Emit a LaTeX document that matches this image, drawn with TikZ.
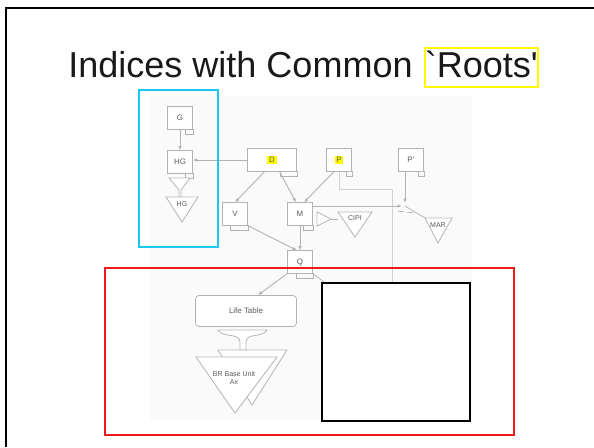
\documentclass[tikz,border=0pt]{standalone}
\usepackage{fontspec}
\setmainfont{Liberation Sans}
\newfontfamily\titlefont{Liberation Sans}
\usetikzlibrary{arrows.meta, positioning, calc}
\definecolor{boxcyan}{RGB}{25,200,245}
\definecolor{boxred}{RGB}{240,25,25}
\definecolor{hlyellow}{RGB}{255,250,0}
\newcommand{\tab}[2]
{
	\draw[gray!60] (#2.south east) rectangle ++(-#1,5)
}
\newcommand{\hl}[1]{{\setlength{\fboxsep}{1pt}\colorbox{hlyellow}{#1}}}

\begin{document}
\begin{tikzpicture}[x=0.02cm, y=-0.02cm,
	every node/.append style={inner sep=0pt},
	blk/.style={draw=gray!60, fill=white,
		minimum width=0.5cm,
		minimum height=0.45cm,
		font=\fontsize{4.5}{5}\selectfont, text=gray!70!black},
	lnk/.style={draw=gray!60, line width=0.5pt, -{Latex[length=2.5pt, width=2pt]}},
	tri/.style={draw=gray!55, fill=white, line width=0.5pt},
	lbl/.style={font=\fontsize{4}{5}\selectfont, text=gray!70!black},
	title/.style={font=\titlefont\fontsize{20.5}{24}\selectfont, text=black!90}]

	\useasboundingbox (0,0) rectangle (594,447);
	\draw[line width=1.2pt] (6,447) -- (6,8) -- (594,8);

	% title
	\node[title, anchor=base west] (ttl) at (68,77) {Indices with Common};
	\node[title, anchor=base west, draw=hlyellow, line width=1.5pt,
	inner xsep=0pt, inner ysep=1.5pt] (roots) at ([xshift=6pt]ttl.base east) {`Roots'\vphantom{g}};

	% pasted diagram
	\fill[gray!4] (150,96) rectangle (472,420);

	\node[blk] (G) at (180,118) {G};
	\node[blk] (HG) at (180,162) {HG};
	\node[blk, minimum width=0.98cm] (D) at (272,160) {\hl{D}};
	\node[blk] (P) at (339,160) {\hl{P}};
	\node[blk] (P2) at (411,160) {P'};
	\node[blk] (V) at (235,214) {V};
	\node[blk] (M) at (300,214) {M};
	\node[blk] (Q) at (300,262) {Q};
	\node[blk, rounded corners=2pt, minimum width=2.02cm, minimum height=0.62cm] (LT) at (246,311) {Life Table};
	\coordinate (jn) at (405,206);
	\coordinate (pl) at (392,283);
	\coordinate (qr) at (335,290);
	\tab{8}{G};
	\tab{8}{HG};
	\tab{17}{D};
	\tab{6}{P};
	\tab{6}{P2};
	\tab{18}{V};
	\tab{10}{M};
	\tab{17}{Q};

	\draw[gray!35] (P.south) -- ++(0,18) -| (pl);
	\draw[lnk] (G) -- (HG);
	\draw[lnk] (D.west) -- (D.west -| HG.east);
	\draw[lnk] ([xshift=-0.15cm]D.south) -- (V.north);
	\draw[lnk] ([xshift=0.15cm]D.south) -- ([xshift=-0.08cm]M.north);
	\draw[lnk] ([xshift=-0.1cm]P.south) -- ([xshift=0.08cm]M.north);
	\draw[lnk] (M.east |- jn) -- ([xshift=-0.06cm]jn);
	\draw[lnk] (P2.south -| jn) -- ([yshift=0.06cm]jn);
	\draw[lnk] (V.south east) -- ([xshift=-0.06cm]Q.north);
	\draw[lnk] (M.south) -- (Q.north);
	\draw[lnk] (Q.south west) -- ([xshift=0.24cm]LT.north);
	\draw[gray!60] (Q.south east) -- (qr);

	% funnels
	\draw[tri] (169,178) -- (190,178) -- (181,190) -- (181,197) -- (179,197) -- (179,190) -- cycle;
	\draw[tri] (166,197) -- (198,197) -- (182,222) -- cycle;
	\node[lbl] at (182,204) {HG};
	\draw[tri] (317,212) -- (317,226) -- (331,219) -- cycle;
	\draw[gray!55] (331,219) -- (338,219);
	\draw[tri] (338,212) -- (372,212) -- (355,237) -- cycle;
	\node[lbl] at (355,218) {CIPI};
	\draw[gray!60] (jn) -- (425,218);
	\draw[gray!55] (398,211) -- (404,211) (407,212) -- (413,212);
	\draw[tri] (425,218) -- (452,218) -- (438,243) -- cycle;
	\node[lbl] at (438,225) {MAR};
	\draw[tri] (218,330) -- (267,330) to[out=-120, in=90] (246,342) -- (246,350)
		-- (240,350) -- (240,342) to[out=90, in=-60] cycle;
	\draw[tri] (218,350) -- (287,350) -- (252,405) -- cycle;
	\draw[tri] (196,357) -- (277,357) -- (235,413) -- cycle;
	\node[lbl, align=center] at (234,378) {BR Base Unit\\Ax};

	% overlays
	\draw[boxcyan, line width=1pt] (139,90) rectangle (218,247);
	\draw[boxred, line width=1.2pt] (105,268) rectangle (514,435);
	\draw[fill=white, line width=0.8pt] (322,283) rectangle (470,421);
\end{tikzpicture}
\end{document}
